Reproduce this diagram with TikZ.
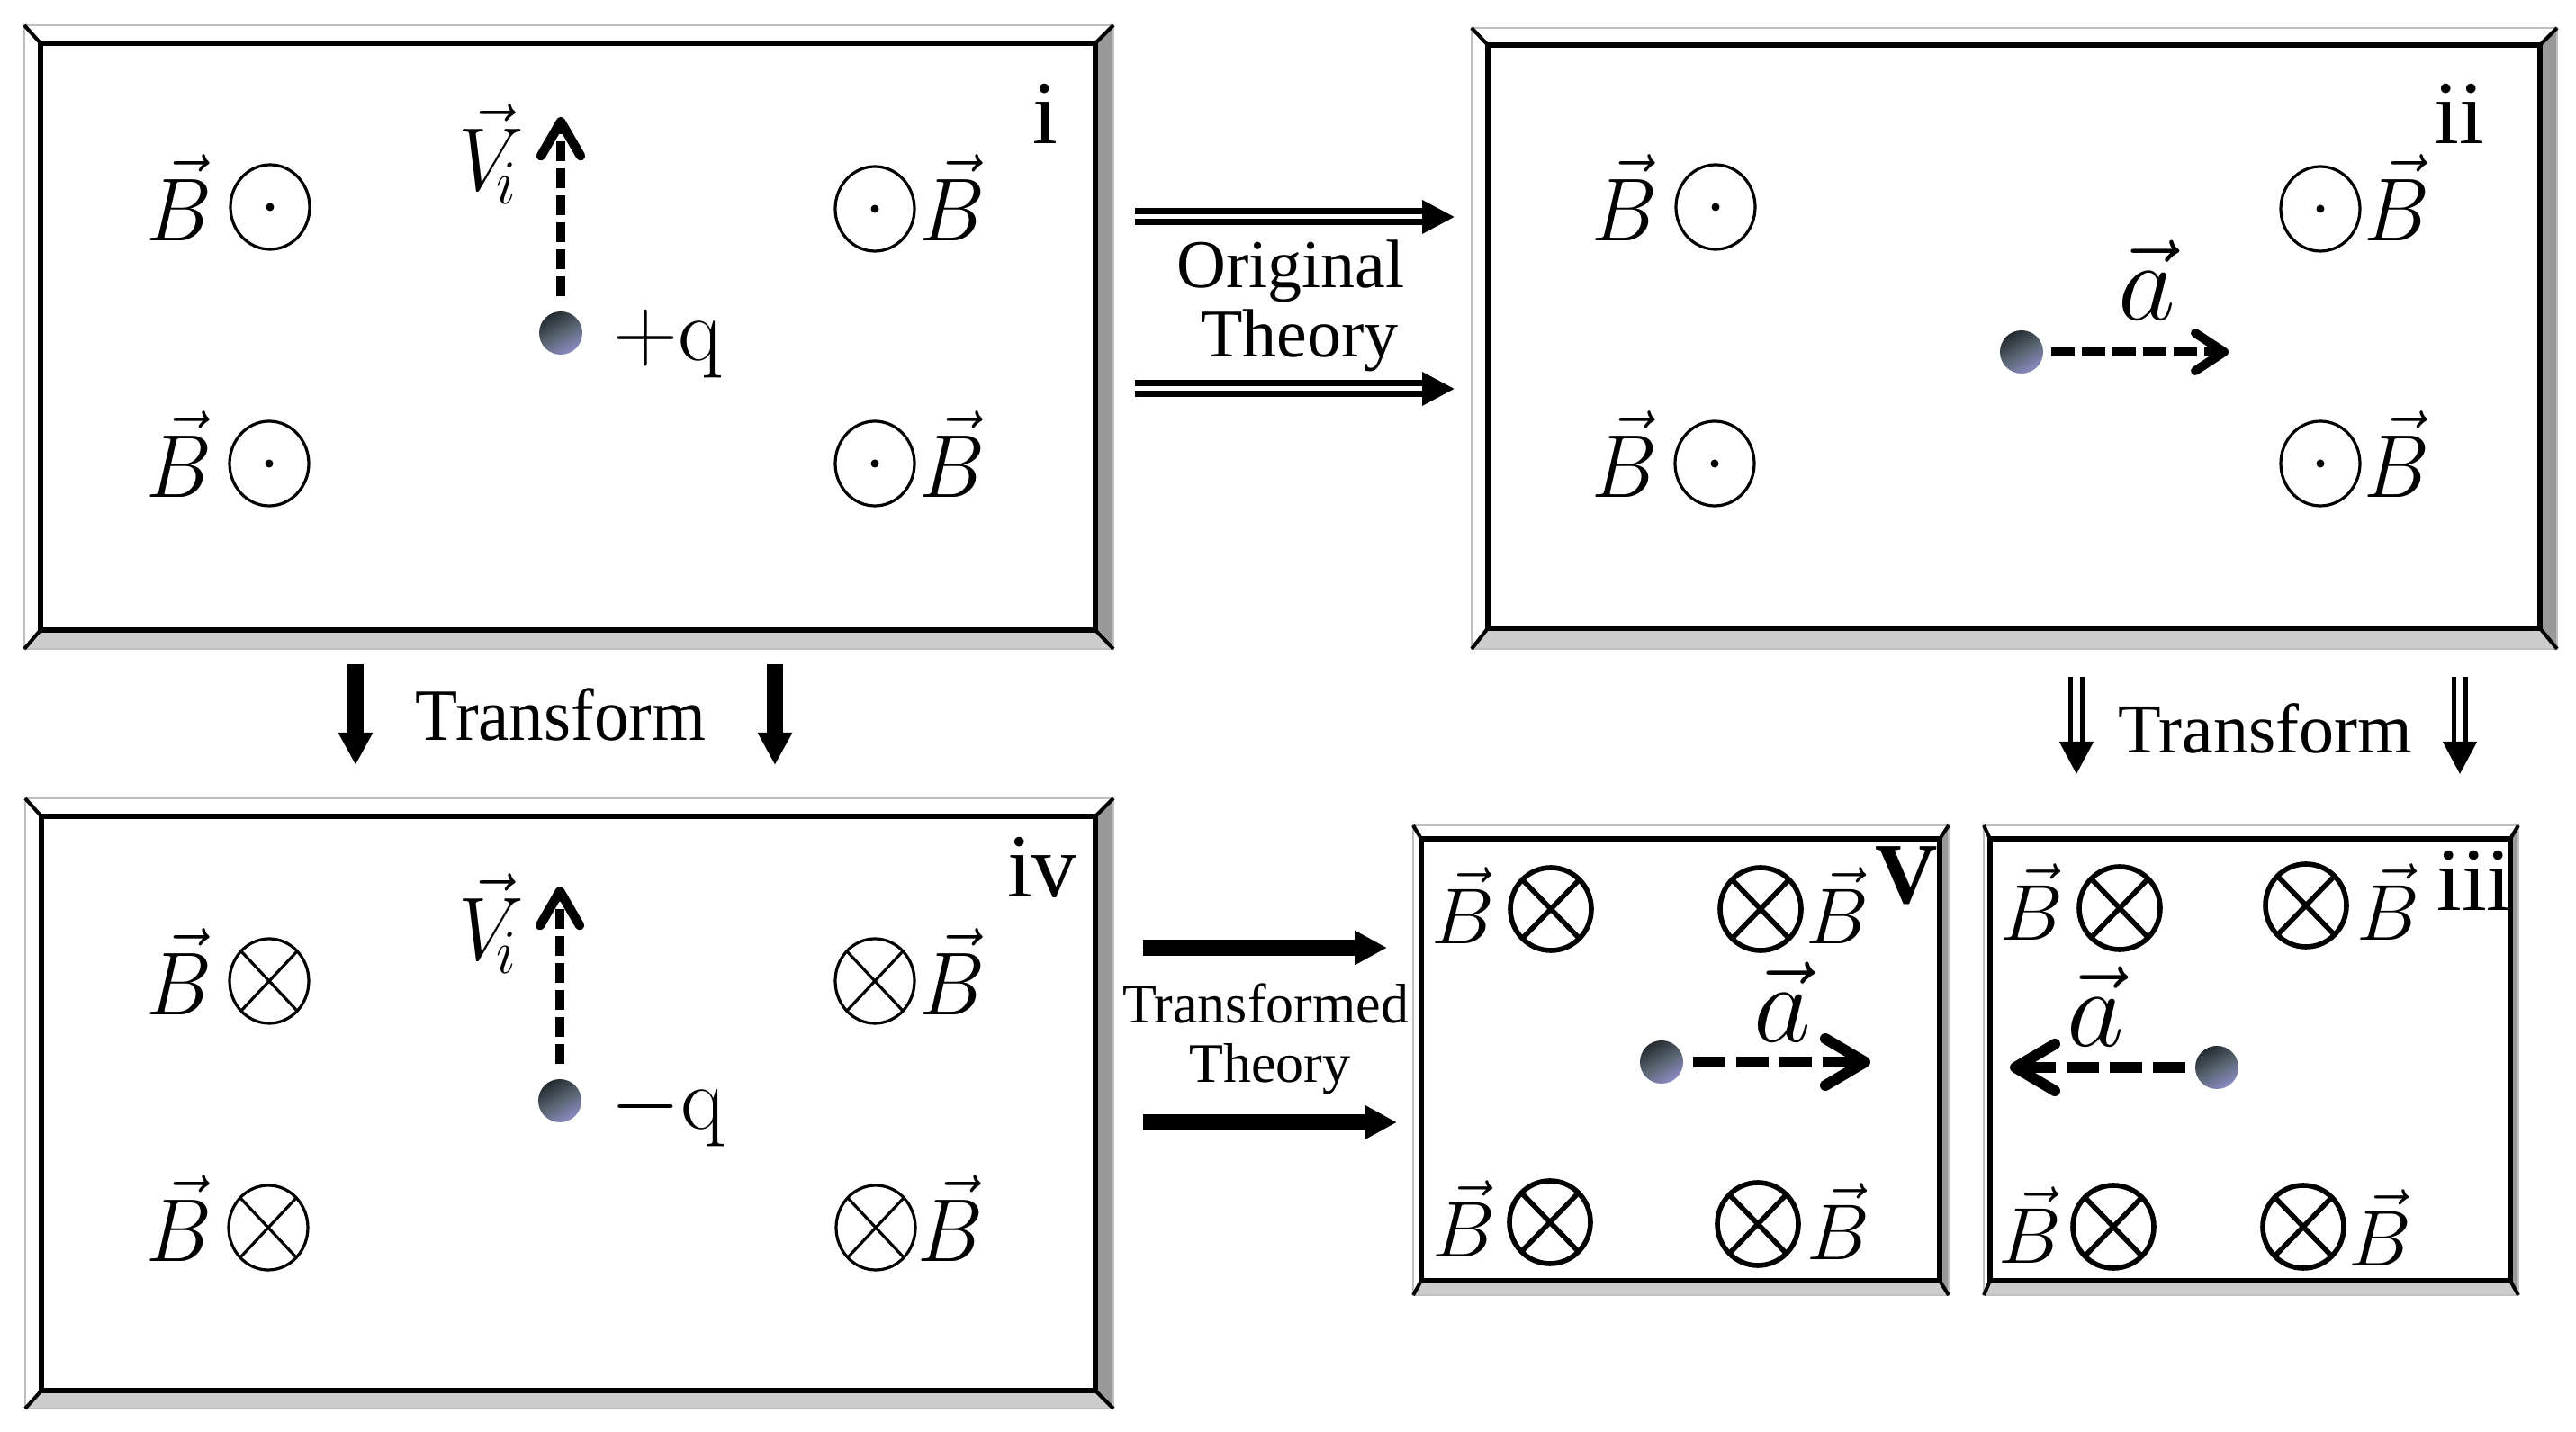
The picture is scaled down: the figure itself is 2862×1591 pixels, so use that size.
\RequirePackage{fix-cm}
\documentclass[tikz,border=0pt]{standalone}
\usepackage[no-math]{fontspec}
\usepackage{graphicx}
\usetikzlibrary{arrows.meta}
\newfontfamily\tms{Liberation Serif}
\newfontfamily\tmsN[FakeStretch=0.94]{Liberation Serif}
\definecolor{ballTop}{RGB}{36,42,48}
\definecolor{ballMid}{RGB}{88,100,112}
\definecolor{ballBot}{RGB}{140,140,195}
\newcommand\vst[1]{\scalebox{1}[1.08]{#1}}
% bevelled frame: outer x1 y1 x2 y2, inner x1 y1 x2 y2
\newcommand\bevframe[8]{%
  \fill[white] (#1,#2) rectangle (#3,#4);
  \fill[black!40] (#7,#6) -- (#3,#2) -- (#3,#4) -- (#7,#8) -- cycle;
  \fill[black!20] (#5,#8) -- (#7,#8) -- (#3,#4) -- (#1,#4) -- cycle;
  \draw[black!25, line width=0.6pt] (#1,#2) rectangle (#3,#4);
  \draw[line width=1.3pt] (#5,#6) rectangle (#7,#8);
  \draw[line width=1pt] (#1,#2) -- (#5,#6) (#3,#2) -- (#7,#6) (#3,#4) -- (#7,#8) (#1,#4) -- (#5,#8);
}
\newcommand\odotB[2]{%
  \draw[line width=0.8pt] (#1,#2) ellipse [x radius=44, y radius=47];
  \fill (#1,#2) circle [radius=4.5];}
\newcommand\otimesB[2]{%
  \draw[line width=0.8pt] (#1,#2) ellipse [x radius=44, y radius=47]
    (#1,#2) +(-31,-33) -- +(31,33) (#1,#2) +(-31,33) -- +(31,-33);}
\newcommand\otimesT[2]{%
  \draw[line width=1.4pt] (#1,#2) ellipse [x radius=45, y radius=46]
    (#1,#2) +(-32,-33) -- +(32,33) (#1,#2) +(-32,33) -- +(32,-33);}
\tikzset{
  mthA/.style={inner sep=0pt, anchor=base, font=\fontsize{23}{27}\selectfont},
  mthB/.style={inner sep=0pt, anchor=base, font=\fontsize{22}{26}\selectfont},
  mthQ/.style={inner sep=0pt, anchor=base, font=\fontsize{25}{30}\selectfont},
  mtha/.style={inner sep=0pt, anchor=base, font=\fontsize{31}{36}\selectfont},
  lbl/.style={inner sep=0pt, anchor=base, font=\tms\fontsize{25}{30}\selectfont},
  lblb/.style={inner sep=0pt, anchor=base, font=\tms\bfseries\fontsize{24}{28}\selectfont},
  txtO/.style={inner sep=0pt, anchor=base, font=\tms\fontsize{19}{23}\selectfont},
  txtT/.style={inner sep=0pt, anchor=base, font=\tms\fontsize{15.5}{19}\selectfont},
  txtA/.style={inner sep=0pt, anchor=base, font=\tmsN\fontsize{20.5}{24}\selectfont},
  txtB/.style={inner sep=0pt, anchor=base, font=\tms\fontsize{19.5}{23}\selectfont},
  charge/.style={circle, minimum size=12pt, inner sep=0pt, top color=ballTop,
    bottom color=ballBot, middle color=ballMid, shading angle=30},
  vecA/.style={line width=2.6pt, dash pattern=on 5.5pt off 2pt, shorten <=4pt,
    -{Straight Barb[length=9.5pt,width=11pt,line cap=round,line join=round]}},
  vecB/.style={line width=2.5pt, dash pattern=on 6.5pt off 2pt, shorten <=2pt,
    -{Straight Barb[length=8pt,width=10.5pt,line cap=round,line join=round]}},
  vecC/.style={line width=3pt, dash pattern=on 9pt off 3pt, shorten <=2.5pt,
    -{Straight Barb[length=11pt,width=13pt,line cap=round,line join=round]}},
  thickarr/.style={line width=4.5pt, -{Triangle[length=9pt,width=9pt]}},
  dblarrO/.style={double, line width=1.75pt, double distance=1.25pt, -{Triangle[length=9pt,width=9pt]}},
  dblarrT/.style={double, line width=1.3pt, double distance=1.8pt, -{Triangle[length=9pt,width=9.25pt]}},
}
\begin{document}
\begin{tikzpicture}[x=0.25pt, y=-0.25pt]
\useasboundingbox[fill=white] (0,0) rectangle (2862,1591);

% ---------- frames ----------
\bevframe{27}{28}{1237}{721}{45}{48}{1217}{700}
\bevframe{1635}{31}{2841}{721}{1653}{50}{2822}{698}
\bevframe{28}{887}{1237}{1565}{46}{907}{1217}{1545}
\bevframe{1570}{917}{2165}{1439}{1579}{932}{2155}{1423}
\bevframe{2204}{917}{2798}{1439}{2211}{932}{2789}{1423}

% ---------- box i ----------
\node[lbl] (labi) at (1161,160) {i};
\odotB{300}{230}\odotB{299}{515}\odotB{972}{232}\odotB{972}{515}
\node[mthA] (Bi1) at (199,268) {\vst{$\vec{B}$}};
\node[mthA] (Bi2) at (199,553) {\vst{$\vec{B}$}};
\node[mthA] (Bi3) at (1058,268) {\vst{$\vec{B}$}};
\node[mthA] (Bi4) at (1058,553) {\vst{$\vec{B}$}};
\node[charge] (qi) at (623,370) {};
\coordinate (ti) at (623,130);
\draw[vecA] (qi) -- (ti);
\node[mthA] (Vi) at (542,212) {\vst{$\vec{V}_{\!i}$}};
\node[mthQ] (pq) at (742,401) {$+\mathrm{q}$};

% ---------- box ii ----------
\node[lbl] (labii) at (2732,160) {ii};
\odotB{1906}{230}\odotB{1905}{515}\odotB{2578}{232}\odotB{2578}{515}
\node[mthA] (Bii1) at (1805,268) {\vst{$\vec{B}$}};
\node[mthA] (Bii2) at (1805,553) {\vst{$\vec{B}$}};
\node[mthA] (Bii3) at (2663,268) {\vst{$\vec{B}$}};
\node[mthA] (Bii4) at (2663,553) {\vst{$\vec{B}$}};
\node[charge] (qii) at (2246,391) {};
\coordinate (tii) at (2476,391);
\draw[vecB] (qii) -- (tii);
\node[mtha] (aii) at (2385,356) {$\vec{a}$};

% ---------- box iv ----------
\node[lbl] (labiv) at (1158,997) {iv};
\otimesB{299}{1090}\otimesB{298}{1364}\otimesB{972}{1090}\otimesB{973}{1364}
\node[mthA] (Biv1) at (199,1128) {\vst{$\vec{B}$}};
\node[mthA] (Biv2) at (199,1402) {\vst{$\vec{B}$}};
\node[mthA] (Biv3) at (1058,1128) {\vst{$\vec{B}$}};
\node[mthA] (Biv4) at (1056,1402) {\vst{$\vec{B}$}};
\node[charge] (qiv) at (622,1223) {};
\coordinate (tiv) at (622,985);
\draw[vecA] (qiv) -- (tiv);
\node[mthA] (Viv) at (542,1067) {\vst{$\vec{V}_{\!i}$}};
\node[mthQ] (mq) at (742,1255) {$-\mathrm{q}$};

% ---------- box v ----------
\node[lblb] (labv) at (2118,1004) {V};
\otimesT{1723}{1010}\otimesT{1956}{1010}\otimesT{1722}{1358}\otimesT{1953}{1360}
\node[mthB] (Bv1) at (1625,1049) {$\vec{B}$};
\node[mthB] (Bv2) at (2041,1049) {$\vec{B}$};
\node[mthB] (Bv3) at (1626,1397) {$\vec{B}$};
\node[mthB] (Bv4) at (2042,1400) {$\vec{B}$};
\node[charge] (qv) at (1846,1180) {};
\coordinate (tv) at (2078,1180);
\draw[vecC] (qv) -- (tv);
\node[mtha] (av) at (1980,1158) {$\vec{a}$};

% ---------- box iii ----------
\node[lbl] (labiii) at (2749,1012) {iii};
\otimesT{2355}{1009}\otimesT{2562}{1006}\otimesT{2348}{1363}\otimesT{2559}{1363}
\node[mthB] (Biii1) at (2257,1045) {$\vec{B}$};
\node[mthB] (Biii2) at (2653,1045) {$\vec{B}$};
\node[mthB] (Biii3) at (2255,1404) {$\vec{B}$};
\node[mthB] (Biii4) at (2644,1407) {$\vec{B}$};
\node[charge] (qiii) at (2463,1186) {};
\coordinate (tiii) at (2233,1186);
\draw[vecC] (qiii) -- (tiii);
\node[mtha] (aiii) at (2328,1163) {$\vec{a}$};

% ---------- Original Theory ----------
\node[txtO] (orig1) at (1434,320) {Original};
\node[txtO] (orig2) at (1444,397) {Theory};
\coordinate (o1s) at (1261,241); \coordinate (o1e) at (1616,241);
\coordinate (o2s) at (1261,432); \coordinate (o2e) at (1616,432);
\draw[dblarrO] (o1s) -- (o1e);
\draw[dblarrO] (o2s) -- (o2e);

% ---------- Transformed Theory ----------
\node[txtT] (trf1) at (1406,1137) {Transformed};
\node[txtT] (trf2) at (1411,1203) {Theory};
\coordinate (t1s) at (1270,1053); \coordinate (t1e) at (1541,1053);
\coordinate (t2s) at (1270,1247); \coordinate (t2e) at (1552,1247);
\draw[thickarr] (t1s) -- (t1e);
\draw[thickarr] (t2s) -- (t2e);

% ---------- Transform (left) ----------
\node[txtA] (trA) at (623,823) {Transform};
\coordinate (a1s) at (395,738); \coordinate (a1e) at (395,850);
\coordinate (a2s) at (861,738); \coordinate (a2e) at (861,850);
\draw[thickarr] (a1s) -- (a1e);
\draw[thickarr] (a2s) -- (a2e);

% ---------- Transform (right) ----------
\node[txtB] (trB) at (2517,837) {Transform};
\coordinate (b1s) at (2307,752); \coordinate (b1e) at (2307,860);
\coordinate (b2s) at (2733,752); \coordinate (b2e) at (2733,860);
\draw[dblarrT] (b1s) -- (b1e);
\draw[dblarrT] (b2s) -- (b2e);
\end{tikzpicture}
\end{document}
